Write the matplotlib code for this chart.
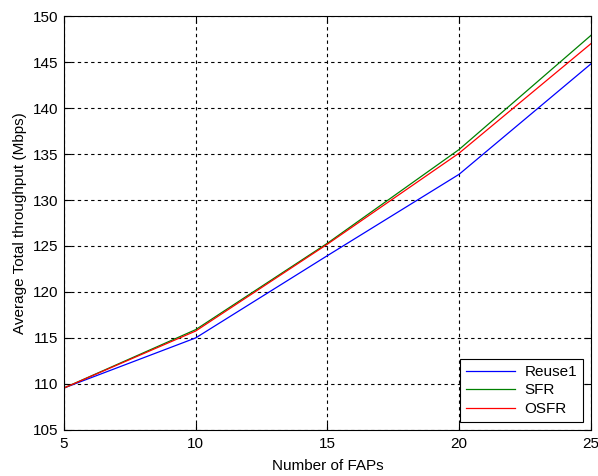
import matplotlib
matplotlib.use("Agg")
import matplotlib.pyplot as plt

plt.rcParams['font.family'] = ['Liberation Sans', 'DejaVu Sans']

# data
faps = [5, 10, 15, 20, 25]
reuse1 = [109.55, 115.0, 123.95, 132.8, 144.8]
sfr = [109.55, 115.9, 125.3, 135.5, 147.9]
osfr = [109.55, 115.75, 125.2, 135.1, 147.0]

fig = plt.figure(figsize=(5.98, 4.76), dpi=100)
ax = fig.add_axes([0.107, 0.097, 0.881, 0.869])

ax.plot(faps, reuse1, color='#0000ff', lw=0.9, label='Reuse1')
ax.plot(faps, sfr, color='#008000', lw=0.9, label='SFR')
ax.plot(faps, osfr, color='#ff0000', lw=0.9, label='OSFR')

ax.set_xlim(5, 25)
ax.set_ylim(105, 150)
ax.set_xticks([5, 10, 15, 20, 25])
ax.set_yticks(range(105, 151, 5))
ax.grid(True, color='black', linestyle=(0, (3, 3)), linewidth=0.8)
ax.tick_params(direction='in', top=True, right=True, labelsize=11, length=5, width=0.8)
ax.tick_params(axis='x', pad=5)
ax.tick_params(axis='y', pad=4)
for s in ax.spines.values():
    s.set_linewidth(0.8)

ax.set_xlabel('Number of FAPs', fontsize=11, labelpad=6)
ax.set_ylabel('Average Total throughput (Mbps)', fontsize=11, labelpad=4)

leg = ax.legend(loc='lower right', fontsize=11, fancybox=False, edgecolor='black',
                framealpha=1, handlelength=3.2, handletextpad=0.6,
                borderaxespad=0.5, labelspacing=0.3)
leg.get_frame().set_linewidth(0.8)

fig.savefig('out.png', dpi=100)
